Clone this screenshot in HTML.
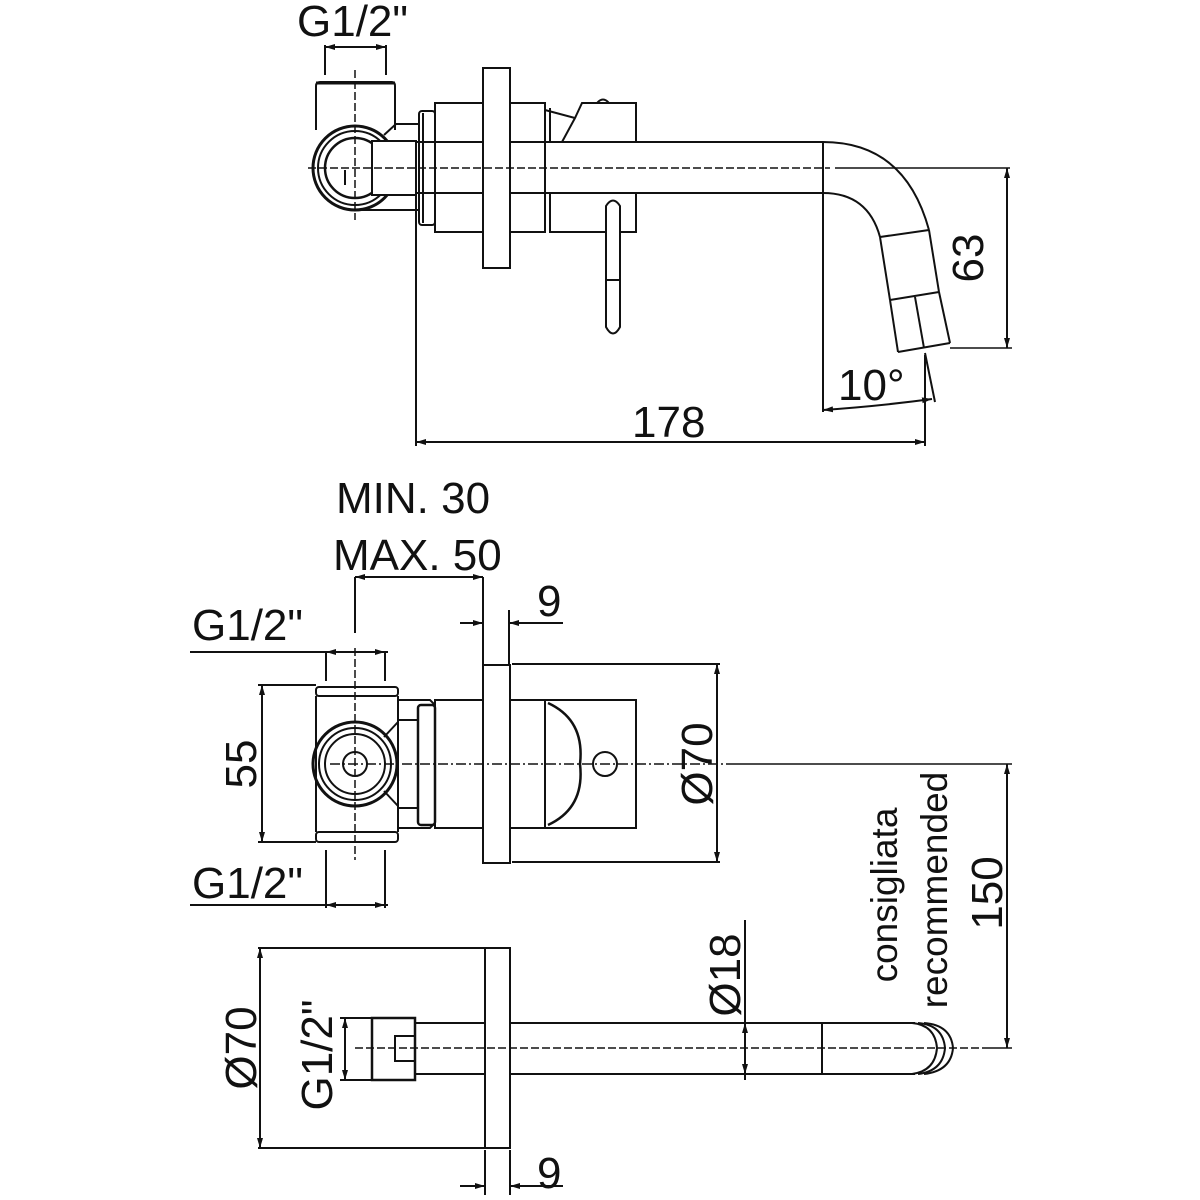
<!DOCTYPE html>
<html><head><meta charset="utf-8"><style>
html,body{margin:0;padding:0;background:#fff;}
svg{display:block;}
text{font-family:"Liberation Sans","DejaVu Sans",sans-serif;fill:#111;}
</style></head><body>
<svg width="1200" height="1200" viewBox="0 0 1200 1200" xmlns="http://www.w3.org/2000/svg">
<defs>
<marker id="a" viewBox="0 0 10 6" refX="10" refY="3" markerWidth="10" markerHeight="6" orient="auto-start-reverse" markerUnits="userSpaceOnUse"><path d="M0,0 L10,3 L0,6 z" fill="#111"/></marker>
</defs>
<g stroke="#111" stroke-width="2" fill="none">
<line x1="325" y1="45" x2="325" y2="75"/><line x1="386" y1="45" x2="386" y2="75"/>
<line x1="325" y1="47" x2="386" y2="47" marker-start="url(#a)" marker-end="url(#a)"/>
<path d="M316,130 L316,86 Q316,82 320,82 L392,82 Q395,82 395,86 L395,130"/>
<line x1="316" y1="83" x2="395" y2="83" stroke-width="3"/>
<line x1="384" y1="135" x2="396" y2="124"/>
<line x1="396" y1="124" x2="419" y2="124"/>
<circle cx="355" cy="168" r="42" stroke-width="3"/>
<circle cx="355" cy="168" r="37"/>
<circle cx="355" cy="168" r="30" stroke-width="2.5"/>
<rect x="372" y="141" width="44" height="54" fill="#fff"/>
<line x1="345" y1="170" x2="345" y2="185"/>
<line x1="360" y1="210" x2="419" y2="210"/>
<rect x="419" y="111" width="16" height="114" rx="3"/>
<line x1="423" y1="113" x2="423" y2="223"/>
<rect x="435" y="103" width="110" height="129"/>
<path d="M550,108 L550,142 M545,110 L575,118 L562,142 M575,118 L582,103 L636,103 L636,142"/>
<path d="M597,103 Q603,96 609,103"/>
<path d="M550,193 L550,232 L636,232 L636,193 M545,193 L545,232"/>
<line x1="416" y1="142" x2="823" y2="142"/>
<line x1="416" y1="193" x2="823" y2="193"/>
<rect x="483" y="68" width="27" height="200" fill="#fff"/>
<path d="M606,206 L606,327 Q613,340 620,327 L620,206 Q613,195 606,206 Z" fill="#fff"/>
<line x1="606" y1="280" x2="620" y2="280"/>
<path d="M823,142 Q905,142 929,230"/>
<path d="M823,193 Q868,193 880,237"/>
<line x1="880" y1="237" x2="929" y2="230"/>
<line x1="880" y1="237" x2="890" y2="300"/><line x1="929" y1="230" x2="939" y2="292"/>
<line x1="890" y1="300" x2="939" y2="292"/>
<line x1="890" y1="300" x2="898" y2="352"/><line x1="939" y1="292" x2="950" y2="343"/>
<line x1="898" y1="352" x2="950" y2="343"/>
<line x1="915" y1="297" x2="924" y2="348"/>
<line x1="823" y1="142" x2="823" y2="412"/>
<line x1="308" y1="168" x2="830" y2="168" stroke-dasharray="8,3" stroke-width="1.5"/>
<line x1="835" y1="168" x2="1010" y2="168" stroke-width="1.5"/>
<line x1="355" y1="70" x2="355" y2="220" stroke-dasharray="8,3" stroke-width="1.5"/>
<line x1="950" y1="348" x2="1012" y2="348" stroke-width="1.5"/>
<line x1="1007" y1="168" x2="1007" y2="348" marker-start="url(#a)" marker-end="url(#a)"/>
<line x1="925" y1="353" x2="935" y2="402"/>
<path d="M823,410 Q880,406 932,399" marker-start="url(#a)" marker-end="url(#a)"/>
<line x1="416" y1="195" x2="416" y2="446"/>
<line x1="925" y1="355" x2="925" y2="446"/>
<line x1="416" y1="442" x2="925" y2="442" marker-start="url(#a)" marker-end="url(#a)"/>

<line x1="355" y1="577" x2="355" y2="633"/>
<line x1="483" y1="577" x2="483" y2="665"/>
<line x1="355" y1="577" x2="483" y2="577" marker-start="url(#a)" marker-end="url(#a)"/>
<line x1="509" y1="610" x2="509" y2="665"/>
<line x1="460" y1="623" x2="483" y2="623" marker-end="url(#a)"/>
<line x1="563" y1="623" x2="509" y2="623" marker-end="url(#a)"/>
<line x1="190" y1="652" x2="388" y2="652"/>
<line x1="326" y1="652" x2="326" y2="681"/><line x1="385" y1="652" x2="385" y2="681"/>
<line x1="326" y1="652" x2="385" y2="652" marker-start="url(#a)" marker-end="url(#a)"/>
<rect x="316" y="687" width="82" height="9" rx="3"/>
<rect x="316" y="832" width="82" height="10" rx="3"/>
<line x1="316" y1="696" x2="316" y2="832"/><line x1="398" y1="696" x2="398" y2="832"/>
<path d="M398,700 L430,700 L435,705"/><path d="M398,828 L430,828 L435,823"/>
<line x1="398" y1="720" x2="418" y2="720"/><line x1="398" y1="808" x2="418" y2="808"/>
<line x1="384" y1="737" x2="398" y2="722"/><line x1="384" y1="791" x2="398" y2="806"/>
<rect x="418" y="705" width="17" height="120" rx="3" stroke-width="2.5"/>
<circle cx="355" cy="764" r="42" stroke-width="3"/>
<circle cx="355" cy="764" r="36"/>
<circle cx="355" cy="764" r="30"/>
<circle cx="355" cy="764" r="12"/>
<rect x="435" y="700" width="110" height="128"/>
<rect x="545" y="700" width="91" height="128"/>
<path d="M548,703 Q585,720 580,764 Q585,808 548,825" stroke-width="2.5"/>
<circle cx="605" cy="764" r="12"/>
<rect x="483" y="665" width="27" height="198" fill="#fff"/>
<line x1="330" y1="764" x2="730" y2="764" stroke-dasharray="10,3,2,3" stroke-width="1.5"/>
<line x1="355" y1="648" x2="355" y2="860" stroke-dasharray="8,3" stroke-width="1.5"/>
<line x1="512" y1="664" x2="720" y2="664"/>
<line x1="512" y1="862" x2="720" y2="862"/>
<line x1="717" y1="664" x2="717" y2="862" marker-start="url(#a)" marker-end="url(#a)"/>
<line x1="258" y1="685" x2="316" y2="685"/>
<line x1="258" y1="842" x2="316" y2="842"/>
<line x1="262" y1="685" x2="262" y2="842" marker-start="url(#a)" marker-end="url(#a)"/>
<line x1="326" y1="850" x2="326" y2="908"/><line x1="385" y1="850" x2="385" y2="908"/>
<line x1="190" y1="905" x2="388" y2="905"/>
<line x1="326" y1="905" x2="385" y2="905" marker-start="url(#a)" marker-end="url(#a)"/>
<line x1="730" y1="764" x2="1012" y2="764" stroke-width="1.5"/>
<line x1="1007" y1="764" x2="1007" y2="1048" marker-start="url(#a)" marker-end="url(#a)"/>

<line x1="258" y1="948" x2="485" y2="948"/>
<line x1="258" y1="1148" x2="485" y2="1148"/>
<line x1="260" y1="948" x2="260" y2="1148" marker-start="url(#a)" marker-end="url(#a)"/>
<rect x="485" y="948" width="25" height="200"/>
<line x1="485" y1="1150" x2="485" y2="1195"/><line x1="510" y1="1150" x2="510" y2="1195"/>
<rect x="372" y="1018" width="43" height="62" stroke-width="2.5"/>
<rect x="395" y="1036" width="20" height="25"/>
<line x1="340" y1="1018" x2="372" y2="1018"/><line x1="340" y1="1080" x2="372" y2="1080"/>
<line x1="345" y1="1018" x2="345" y2="1080" marker-start="url(#a)" marker-end="url(#a)"/>
<line x1="415" y1="1023" x2="485" y2="1023"/><line x1="415" y1="1074" x2="485" y2="1074"/>
<line x1="510" y1="1023" x2="915" y2="1023"/><line x1="510" y1="1074" x2="915" y2="1074"/>
<line x1="822" y1="1023" x2="822" y2="1074"/>
<path d="M912,1023 Q935,1025 937,1048 Q935,1071 912,1074"/>
<path d="M918,1023 Q943,1025 945,1048 Q943,1071 918,1074"/>
<path d="M924,1023 Q951,1025 953,1048 Q951,1071 924,1074"/>
<line x1="745" y1="920" x2="745" y2="1080"/>
<line x1="745" y1="1023" x2="745" y2="1074" marker-start="url(#a)" marker-end="url(#a)"/>
<line x1="355" y1="1048" x2="990" y2="1048" stroke-dasharray="8,3" stroke-width="1.5"/>
<line x1="990" y1="1048" x2="1012" y2="1048" stroke-width="1.5"/>
<line x1="460" y1="1186" x2="485" y2="1186" marker-end="url(#a)"/>
<line x1="563" y1="1186" x2="510" y2="1186" marker-end="url(#a)"/>
</g>

<g font-size="44">
<text x="297" y="36">G1/2"</text>
<text x="983" y="258" transform="rotate(-90 983 258)" text-anchor="middle">63</text>
<text x="838" y="400">10°</text>
<text x="632" y="437">178</text>
<text x="336" y="513">MIN. 30</text>
<text x="333" y="570">MAX. 50</text>
<text x="537" y="616">9</text>
<text x="192" y="640">G1/2"</text>
<text x="256" y="764" transform="rotate(-90 256 764)" text-anchor="middle">55</text>
<text x="712" y="764" transform="rotate(-90 712 764)" text-anchor="middle">Ø70</text>
<text x="192" y="898">G1/2"</text>
<text x="1002" y="893" transform="rotate(-90 1002 893)" text-anchor="middle">150</text>
<text x="740" y="975" transform="rotate(-90 740 975)" text-anchor="middle">Ø18</text>
<text x="256" y="1048" transform="rotate(-90 256 1048)" text-anchor="middle">Ø70</text>
<text x="332" y="1055" transform="rotate(-90 332 1055)" text-anchor="middle">G1/2"</text>
<text x="537" y="1188">9</text>
</g>
<g font-size="37">
<text x="897" y="895" transform="rotate(-90 897 895)" text-anchor="middle">consigliata</text>
<text x="947" y="890" transform="rotate(-90 947 890)" text-anchor="middle">recommended</text>
</g>
</svg>
</body></html>
